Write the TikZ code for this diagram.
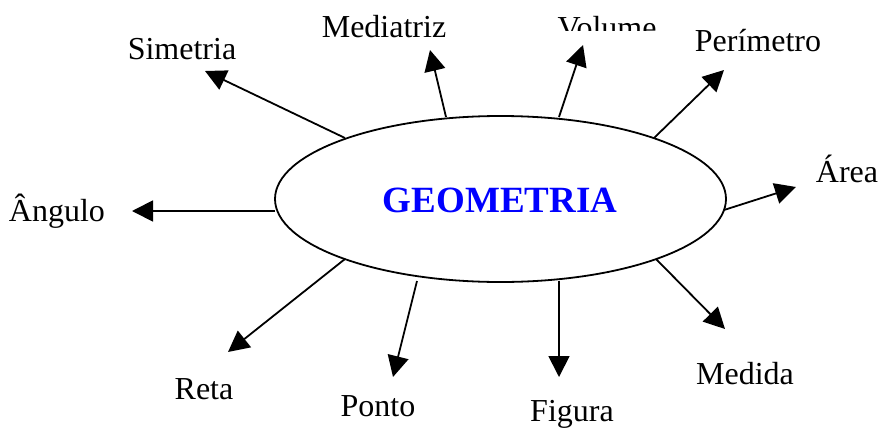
\documentclass[tikz,border=0pt]{standalone}
\usepackage{fontspec}
\setmainfont{Liberation Serif}
\usetikzlibrary{shapes.geometric,arrows.meta}
\begin{document}
\begin{tikzpicture}[x=0.5pt,y=-0.5pt,
  lbl/.style={anchor=base,inner sep=0pt,font=\fontsize{16}{19}\selectfont},
  conn/.style={line width=0.9pt,-{Triangle[length=10.5pt,width=10.5pt]}}]
\useasboundingbox (0,0) rectangle (882,428);
\node[ellipse,draw,line width=0.9pt,minimum width=225.5pt,minimum height=83pt,inner sep=0pt] (g) at (500.5,199) {};
\node[inner sep=0pt,text=blue,font=\fontsize{18.5}{22}\selectfont\bfseries] (gt) at (500,200) {GEOMETRIA};
% labels
\node[lbl] (sim) at (182,59) {Simetria};
\node[lbl] (med) at (384,37) {Mediatriz};
\node[lbl] (vol) at (607,38) {Volume};
\fill[white] (548,31) rectangle (668,44);
\node[lbl] (per) at (758,51) {Perímetro};
\node[lbl] (are) at (847,182) {Área};
\node[lbl] (ang) at (57,221) {Ângulo};
\node[lbl] (ret) at (204,399) {Reta};
\node[lbl] (pon) at (378,416) {Ponto};
\node[lbl] (fig) at (572,421) {Figura};
\node[lbl] (mdd) at (745,384) {Medida};
% endpoints
\coordinate (s1) at (345,138); \coordinate (t1) at (205,71);
\coordinate (s2) at (446,117); \coordinate (t2) at (430,50);
\coordinate (s3) at (559,117); \coordinate (t3) at (583,45);
\coordinate (s4) at (654,138); \coordinate (t4) at (724,70);
\coordinate (s5) at (724,210); \coordinate (t5) at (796,187);
\coordinate (s6) at (275,211); \coordinate (t6) at (132,211);
\coordinate (s7) at (345,259); \coordinate (t7) at (228,352);
\coordinate (s8) at (417,281); \coordinate (t8) at (393,377);
\coordinate (s9) at (559,281); \coordinate (t9) at (559,377);
\coordinate (s10) at (656,259); \coordinate (t10) at (725,329);
\foreach \i in {1,...,10} {\draw[conn] (s\i) -- (t\i);}
\end{tikzpicture}
\end{document}
